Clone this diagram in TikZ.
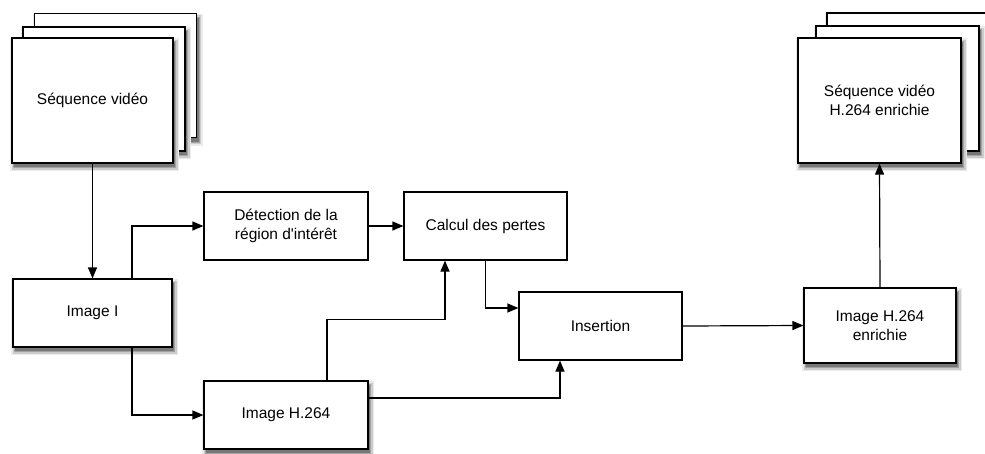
\documentclass[tikz,border=0pt]{standalone}
\usepackage{fontspec}
\newfontfamily\hv{Liberation Sans}
\usetikzlibrary{arrows.meta}
\definecolor{shA}{rgb}{0.92,0.92,0.92}
\definecolor{shB}{rgb}{0.80,0.80,0.80}
\definecolor{shC}{rgb}{0.64,0.64,0.64}
\definecolor{shD}{rgb}{0.47,0.47,0.47}
\newcommand\shlayer[6]{%
  \fill[#6] (#1-#3/2+2-#5,#2-#4/2+4-#5) rectangle (#1+#3/2+2+#5,#2+#4/2+4+#5);}
\newcommand\shbox[4]{%
  \shlayer{#1}{#2}{#3}{#4}{4}{shA}%
  \shlayer{#1}{#2}{#3}{#4}{2.5}{shB}%
  \shlayer{#1}{#2}{#3}{#4}{1}{shC}%
  \shlayer{#1}{#2}{#3}{#4}{0}{shD}}
\begin{document}
\begin{tikzpicture}[x=1pt,y=-1pt,
  box/.style={draw=black,line width=1.2pt,fill=white,rectangle,inner sep=0pt,
    align=center,font=\hv\fontsize{15.5}{18.5}\selectfont},
  arr/.style={line width=1.2pt,-{Triangle[length=11pt,width=9pt]}}]
\useasboundingbox (0,0) rectangle (985,453);
\fill[white] (0,0) rectangle (985,453);
% left stack
\shbox{115.5}{75.5}{162}{124}
\node[box,minimum width=162pt,minimum height=124pt] (seqLback) at (115.5,75.5) {};
\shbox{104}{89}{162}{124}
\node[box,minimum width=162pt,minimum height=124pt] (seqLmid) at (104,89) {};
\shbox{92.5}{100.5}{161}{125}
\node[box,minimum width=161pt,minimum height=125pt] (seqL) at (92.5,100.5) {Séquence vidéo};
% right stack
\shbox{908.5}{75.5}{163}{125}
\node[box,minimum width=163pt,minimum height=125pt] (seqRback) at (908.5,75.5) {};
\shbox{897.5}{88.5}{163}{125}
\node[box,minimum width=163pt,minimum height=125pt] (seqRmid) at (897.5,88.5) {};
\shbox{879.5}{100.5}{163}{125}
\node[box,minimum width=163pt,minimum height=125pt] (seqR) at (879.5,100.5) {Séquence vidéo\\H.264 enrichie};
% boxes
\shbox{92.5}{313}{159}{68}
\node[box,minimum width=159pt,minimum height=68pt] (imgI) at (92.5,313) {Image I};
\node[box,minimum width=164pt,minimum height=68pt] (detect) at (286,226) {Détection de la\\région d'intérêt};
\shbox{286}{415}{164}{68}
\node[box,minimum width=164pt,minimum height=68pt] (h264) at (286,415) {Image H.264};
\node[box,minimum width=163pt,minimum height=68pt] (calcul) at (485.5,226) {Calcul des pertes};
\node[box,minimum width=163pt,minimum height=68pt] (insertion) at (600.5,326) {Insertion};
\shbox{880}{325.5}{152}{75}
\node[box,minimum width=152pt,minimum height=75pt] (enrichie) at (880,325.5) {Image H.264\\enrichie};
% connectors
\draw[arr] (seqL.south) -- (imgI.north);
\draw[arr] ([xshift=39.5pt]imgI.north) |- (detect.west);
\draw[arr] ([xshift=39.5pt]imgI.south) |- (h264.west);
\draw[arr] (detect.east) -- (calcul.west);
\draw[arr] ([xshift=41pt]h264.north) -- ++(0pt,61pt) -| ([xshift=-40.5pt]calcul.south);
\draw[arr] (calcul.south) |- ([yshift=18pt]insertion.west);
\draw[arr] ([yshift=17pt]h264.east) -| ([xshift=-40.5pt]insertion.south);
\draw[arr] (insertion.east) -- (enrichie.west);
\draw[arr] (enrichie.north) -- (seqR.south);
\end{tikzpicture}
\end{document}
